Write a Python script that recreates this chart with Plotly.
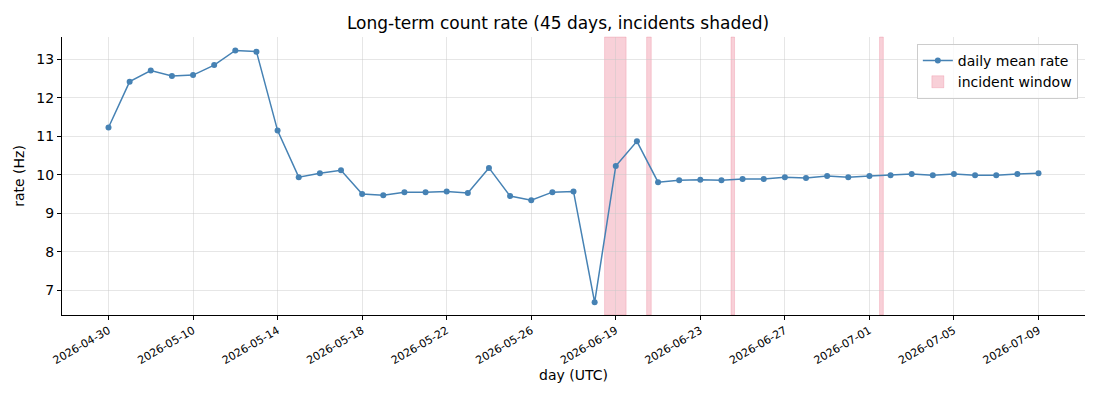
import plotly.graph_objects as go

# daily mean rate, one value per day (45 days)
rate = [
    11.23, 12.42, 12.71, 12.57, 12.59, 12.85, 13.23, 13.20, 11.15, 9.94,
    10.04, 10.12, 9.50, 9.47, 9.55, 9.55, 9.57, 9.53, 10.18, 9.45,
    9.34, 9.55, 9.57, 6.69, 10.23, 10.87, 9.81, 9.86, 9.87, 9.86,
    9.89, 9.89, 9.94, 9.92, 9.97, 9.94, 9.97, 9.99, 10.02, 9.99,
    10.02, 9.99, 9.99, 10.02, 10.04,
]
day_idx = list(range(len(rate)))

tick_pos = [0, 4, 8, 12, 16, 20, 24, 28, 32, 36, 40, 44]
tick_text = [
    "2026-04-30", "2026-05-10", "2026-05-14", "2026-05-18", "2026-05-22",
    "2026-05-26", "2026-06-19", "2026-06-23", "2026-06-27", "2026-07-01",
    "2026-07-05", "2026-07-09",
]

# incident windows (start, end) in day-index units
inc_start = [23.47, 25.46, 29.45, 36.48]
inc_end = [24.49, 25.68, 29.62, 36.66]

fig = go.Figure()

for i, (a, b) in enumerate(zip(inc_start, inc_end)):
    fig.add_shape(
        type="rect", xref="x", yref="y domain",
        x0=a, x1=b, y0=0, y1=1,
        fillcolor="rgba(220,20,60,0.2)",
        line=dict(color="rgba(220,20,60,0.15)", width=1),
        layer="below",
        name="incident window",
        showlegend=(i == 0),
        legendrank=2,
    )

fig.add_trace(go.Scatter(
    x=day_idx, y=rate, mode="lines+markers",
    name="daily mean rate",
    line=dict(color="#4682b4", width=1.5),
    marker=dict(color="#4682b4", size=6),
    legendrank=1,
))

axis_common = dict(
    showline=True, linecolor="black", linewidth=1,
    ticks="outside", ticklen=4, tickcolor="black",
    showgrid=True, gridcolor="rgba(200,200,200,0.45)", gridwidth=0.8,
    zeroline=False, mirror=False,
)

fig.update_xaxes(
    **axis_common,
    range=[-2.2, 46.2],
    tickmode="array", tickvals=tick_pos, ticktext=tick_text,
    tickangle=-30, tickfont=dict(size=11),
    title=dict(text="day (UTC)", font=dict(size=14), standoff=4),
)
fig.update_yaxes(
    **axis_common,
    range=[6.36, 13.58],
    tickvals=[7, 8, 9, 10, 11, 12, 13],
    tickfont=dict(size=14),
    title=dict(text="rate (Hz)", font=dict(size=14), standoff=8),
)

fig.update_layout(
    width=1100, height=400,
    margin=dict(l=54, r=23, t=29, b=93),
    paper_bgcolor="white", plot_bgcolor="white",
    font=dict(family="DejaVu Sans", color="black", size=14),
    title=dict(
        text="Long-term count rate (45 days, incidents shaded)",
        x=0.5, xanchor="center", y=0.9625, yanchor="middle",
        font=dict(size=17),
    ),
    legend=dict(
        x=0.993, xanchor="right", y=0.975, yanchor="top",
        bordercolor="#cccccc", borderwidth=1,
        bgcolor="rgba(255,255,255,0.8)",
        font=dict(size=14),
    ),
    showlegend=True,
)

fig.write_html("out.html")
